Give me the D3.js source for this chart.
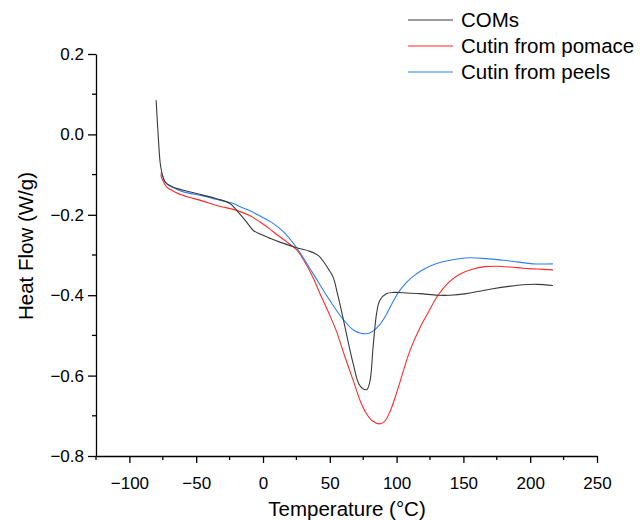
<!DOCTYPE html>
<html>
<head>
<meta charset="utf-8">
<script src="https://cdn.jsdelivr.net/npm/d3@7"></script>
<style>
body{margin:0;background:#fff;}
text{font-family:"Liberation Sans",Arial,sans-serif;fill:#000;}
.axis path,.axis line{stroke:#000;stroke-width:1.3;}
</style>
</head>
<body>
<div id="chart"></div>
<script>
var w = 640;
var h = 520;

var xMin = -125, xMax = 250;
var yMin = -0.8, yMax = 0.2;

var seriesNames = ["COMs", "Cutin from pomace", "Cutin from peels"];
var seriesColors = ["#3a3a3a", "#ff2a2a", "#2f80f0"];

// temperature (C), heat flow (W/g)
var comsT = [-80, -78.5, -77, -75.7, -73.2, -68, -59.6, -45, -34.6, -24.7, -19.7, -13, -7.2, -2.2, 5, 12.7, 25.2, 35.1, 41.3, 45, 48.8, 52.5, 56, 60, 64, 67.5, 72.5, 77.5, 80, 82.4, 85, 87.4, 92.5, 98, 104.9, 117, 131, 139.8, 152.2, 162, 172, 184, 194.5, 205, 217];
var comsV = [0.085, 0.0, -0.07, -0.095, -0.119, -0.13, -0.139, -0.151, -0.160, -0.172, -0.189, -0.215, -0.239, -0.248, -0.258, -0.268, -0.282, -0.291, -0.301, -0.315, -0.334, -0.355, -0.4, -0.458, -0.52, -0.570, -0.625, -0.635, -0.615, -0.529, -0.446, -0.413, -0.396, -0.393, -0.394, -0.396, -0.400, -0.400, -0.396, -0.390, -0.384, -0.378, -0.374, -0.373, -0.376];

var pomaceT = [-76.5, -75.7, -72, -66, -59.6, -45, -34.6, -19.7, -10, -2.2, 5, 10.2, 18, 25.2, 30, 37.6, 42.6, 50, 55, 61, 67.5, 73, 77.5, 82, 87.4, 91, 95, 100, 104.9, 110, 117.3, 124.8, 131, 139, 147.2, 157.2, 166, 174.7, 185, 194.5, 205, 217];
var pomaceV = [-0.100, -0.110, -0.131, -0.143, -0.152, -0.166, -0.177, -0.189, -0.202, -0.218, -0.235, -0.249, -0.268, -0.287, -0.31, -0.357, -0.396, -0.450, -0.490, -0.55, -0.612, -0.665, -0.695, -0.713, -0.720, -0.714, -0.690, -0.643, -0.590, -0.538, -0.482, -0.436, -0.400, -0.368, -0.348, -0.335, -0.329, -0.328, -0.330, -0.333, -0.335, -0.337];

var peelsT = [-76.5, -75.7, -72, -66, -59.6, -45, -34.6, -22.2, -17, -9.7, -2.2, 7, 15.2, 25.2, 37.6, 50, 60, 68, 77.5, 82, 87, 92, 97, 102, 108, 113.6, 120, 130, 140, 154.7, 167, 179.6, 190, 202, 217];
var peelsV = [-0.095, -0.10, -0.123, -0.134, -0.143, -0.153, -0.162, -0.172, -0.180, -0.190, -0.203, -0.220, -0.242, -0.282, -0.347, -0.413, -0.460, -0.487, -0.496, -0.490, -0.475, -0.450, -0.418, -0.390, -0.366, -0.350, -0.336, -0.321, -0.313, -0.307, -0.309, -0.313, -0.317, -0.322, -0.322];

var xTicks = [-100, -50, 0, 50, 100, 150, 200, 250];
var xMinor = [-125, -75, -25, 25, 75, 125, 175, 225];
var yTicks = [0.2, 0.0, -0.2, -0.4, -0.6, -0.8];
var yMinor = [0.1, -0.1, -0.3, -0.5, -0.7];

var x0 = 96, x1 = 597, yTop = 54, yBot = 456;

var xScale = d3.scaleLinear().domain([xMin, xMax]).range([x0, x1]);
var yScale = d3.scaleLinear().domain([yMin, yMax]).range([yBot, yTop]);

var svg = d3.select("#chart").append("svg")
  .attr("width", w)
  .attr("height", h);

// axes
var xAxis = svg.append("g")
  .attr("class", "axis")
  .attr("transform", "translate(0," + yBot + ")")
  .call(d3.axisBottom(xScale).tickValues(xTicks).tickSize(7).tickSizeOuter(0).tickFormat(d3.format("d")));
xAxis.selectAll("text").style("font-size", "17px").attr("dy", "1.35em");
xAxis.selectAll(".tickm").data(xMinor).enter().append("line")
  .attr("x1", function(d){ return xScale(d); })
  .attr("x2", function(d){ return xScale(d); })
  .attr("y1", 0).attr("y2", 4);

var yAxis = svg.append("g")
  .attr("class", "axis")
  .attr("transform", "translate(" + x0 + ",0)")
  .call(d3.axisLeft(yScale).tickValues(yTicks).tickSize(8).tickSizeOuter(0).tickFormat(d3.format(".1f")));
yAxis.selectAll("text").style("font-size", "17px").attr("x", -12);
yAxis.selectAll(".tickm").data(yMinor).enter().append("line")
  .attr("y1", function(d){ return yScale(d); })
  .attr("y2", function(d){ return yScale(d); })
  .attr("x1", 0).attr("x2", -4);

// axis titles
svg.append("text")
  .attr("x", 347).attr("y", 516)
  .style("text-anchor", "middle")
  .style("font-size", "20.5px")
  .text("Temperature (\u00B0C)");

svg.append("text")
  .attr("transform", "translate(33,246) rotate(-90)")
  .style("text-anchor", "middle")
  .style("font-size", "20.5px")
  .text("Heat Flow (W/g)");

// curves
function pts(ts, vs){
  return ts.map(function(t, i){ return {t: t, v: vs[i]}; });
}
var series = [pts(comsT, comsV), pts(pomaceT, pomaceV), pts(peelsT, peelsV)];

var line = d3.line()
  .curve(d3.curveCatmullRom.alpha(0.5))
  .x(function(d){ return xScale(d.t); })
  .y(function(d){ return yScale(d.v); });

// draw pomace, peels first, COMs on top
[1, 2, 0].forEach(function(i){
  svg.append("path")
    .datum(series[i])
    .attr("fill", "none")
    .attr("stroke", seriesColors[i])
    .attr("stroke-width", 1.1)
    .attr("d", line);
});

// legend
var leg = svg.append("g");
seriesNames.forEach(function(name, i){
  var yy = 20 + i * 26;
  leg.append("line")
    .attr("x1", 408).attr("x2", 453)
    .attr("y1", yy).attr("y2", yy)
    .attr("stroke", seriesColors[i])
    .attr("stroke-width", 1.1);
  leg.append("text")
    .attr("x", 461).attr("y", yy + 7)
    .style("font-size", "20.5px")
    .text(name);
});
</script>
</body>
</html>
